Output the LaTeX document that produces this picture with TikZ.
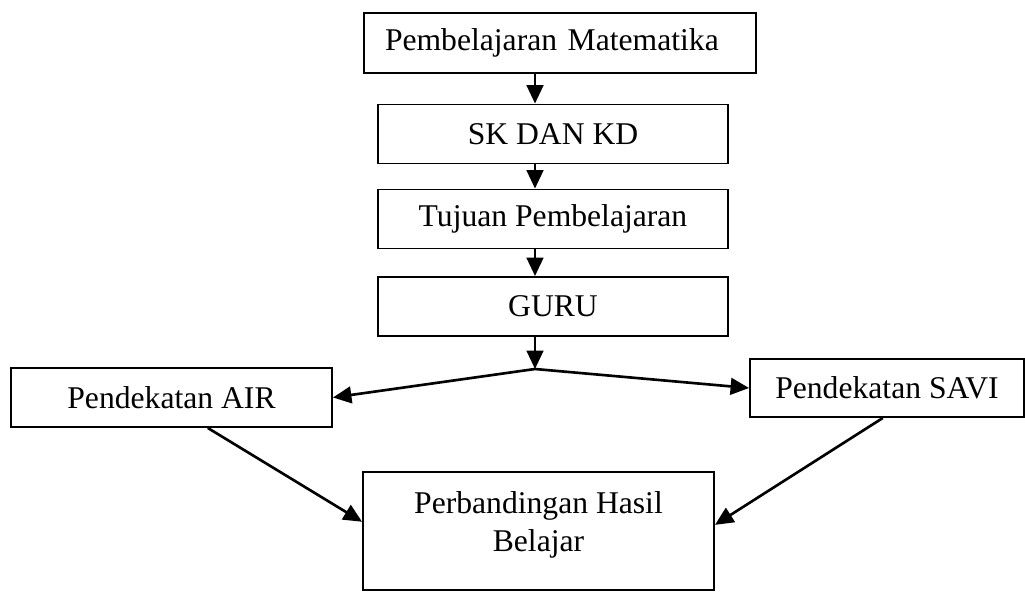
\documentclass[tikz,border=0pt]{standalone}
\usepackage{fontspec}
\setmainfont{Liberation Serif}
\usetikzlibrary{arrows.meta,positioning}
\tikzset{
  stage/.style={draw,line width=1.1pt,inner sep=0pt,align=center,
    font=\fontsize{18}{22}\selectfont},
  flow/.style={-{Triangle[length=10.5pt,width=9.5pt]},line width=1.5pt}
}

\begin{document}
\begin{tikzpicture}[
  wide/.style={stage,minimum width=7cm,minimum height=1.18cm},
  caption/.style={align=center,inner sep=0pt,font=\fontsize{18}{22}\selectfont}
]
  \useasboundingbox (0,0) rectangle (20.5,-11.84);
  \coordinate (split) at (10.7,-7.38);
  \node[stage,minimum width=7.84cm,minimum height=1.2cm,text width=7cm,align=left]
    (matematika) at (11.2,-0.86) {Pembelajaran Matematika};
  \node[wide] (skkd) at (11.06,-2.68) {SK DAN KD};
  \node[wide] (tujuan) at (11.06,-4.38) {Tujuan Pembelajaran};
  \node[wide] (guru) at (11.06,-6.13) {GURU};
  \node[stage,minimum width=6.42cm,minimum height=1.18cm] (air) at (3.43,-7.95) {Pendekatan AIR};
  \node[stage,minimum width=5.48cm,minimum height=1.16cm] (savi) at (17.74,-7.76) {Pendekatan SAVI};
  \node[stage,minimum width=7.02cm,minimum height=2.36cm] (hasil) at (10.77,-10.62) {};
  \node[caption,anchor=north] (hasiltext) at (10.77,-9.82) {Perbandingan Hasil\\Belajar};
  \draw[flow] (matematika.south -| split) -- (skkd.north -| split);
  \draw[flow] (skkd.south -| split) -- (tujuan.north -| split);
  \draw[flow] (tujuan.south -| split) -- (guru.north -| split);
  \draw[flow] (guru.south -| split) -- (split);
  \draw[flow] (split) -- (air.east);
  \draw[flow] (split) -- (savi.west);
  \draw[flow] (air.-40) -- (hasil.177.5);
  \draw[flow] (savi.-98) -- (hasil.2.5);
\end{tikzpicture}
\end{document}
